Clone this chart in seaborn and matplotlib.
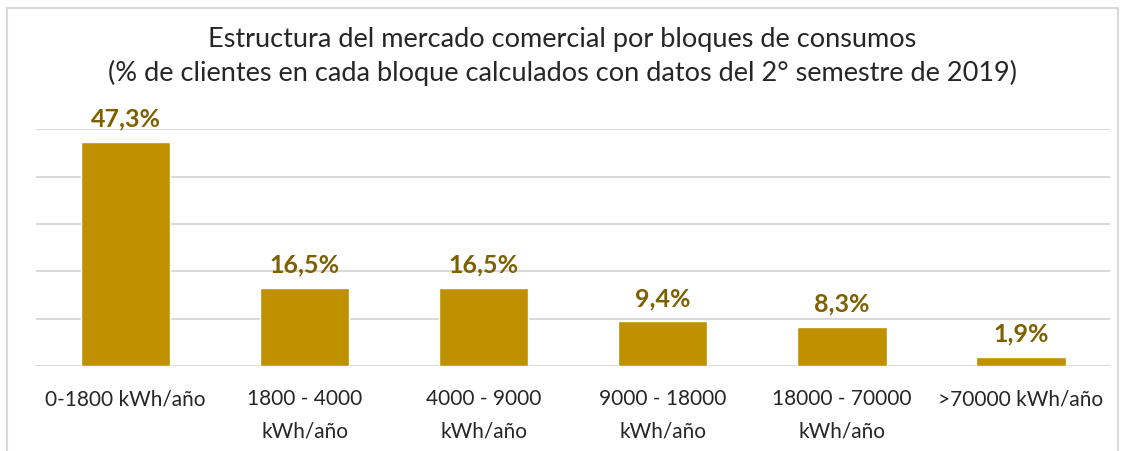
import matplotlib
matplotlib.use("Agg")
import matplotlib.pyplot as plt
import seaborn as sns
import pandas as pd
from matplotlib.patches import Rectangle

# data
categories = ["0-1800 kWh/año", "1800 - 4000\nkWh/año", "4000 - 9000\nkWh/año",
              "9000 - 18000\nkWh/año", "18000 - 70000\nkWh/año", ">70000 kWh/año"]
shares = [47.3, 16.5, 16.5, 9.4, 8.3, 1.9]
share_labels = ["47,3%", "16,5%", "16,5%", "9,4%", "8,3%", "1,9%"]

sns.set_theme(style="white")
plt.rcParams["font.family"] = ["Lato", "DejaVu Sans"]

df = pd.DataFrame({"bloque": categories, "pct": shares})

fig = plt.figure(figsize=(11.25, 4.52), dpi=100)
ax = fig.add_axes([0.032, 0.188, 0.955, 0.524])

sns.barplot(data=df, x="bloque", y="pct", color="#BF9000", width=0.5,
            saturation=1, ax=ax, zorder=3)

ax.set_ylim(0, 50)
ax.set_yticks(range(0, 51, 10))
ax.yaxis.grid(True, color="#D9D9D9", linewidth=1.5, zorder=0)
ax.set_yticklabels([])
ax.tick_params(axis="y", length=0)
ax.tick_params(axis="x", length=0, labelsize=15, colors="#262626", pad=16)
for t in ax.get_xticklabels():
    t.set_linespacing(1.75)
    t.set_va("top")
for s in ax.spines.values():
    s.set_visible(False)
ax.set_xlabel("")
ax.set_ylabel("")

for i, (v, lab) in enumerate(zip(shares, share_labels)):
    ax.annotate(lab, (i, v), xytext=(0, 9), textcoords="offset points",
                ha="center", va="bottom", fontsize=18, fontweight="bold",
                color="#7F6000")

fig.text(0.5, 0.912, "Estructura del mercado comercial por bloques de consumos",
         ha="center", va="center", fontsize=19.5, color="#262626")
fig.text(0.5, 0.838, "(% de clientes en cada bloque calculados con datos del 2° semestre de 2019)",
         ha="center", va="center", fontsize=19.5, color="#262626")

# chart frame
fig.patches.append(Rectangle((7 / 1125, -0.05), 1111 / 1125, 1 - 9 / 452 + 0.05,
                             transform=fig.transFigure, fill=False,
                             edgecolor="#D9D9D9", linewidth=1.5))

fig.savefig("out.png", dpi=100)
